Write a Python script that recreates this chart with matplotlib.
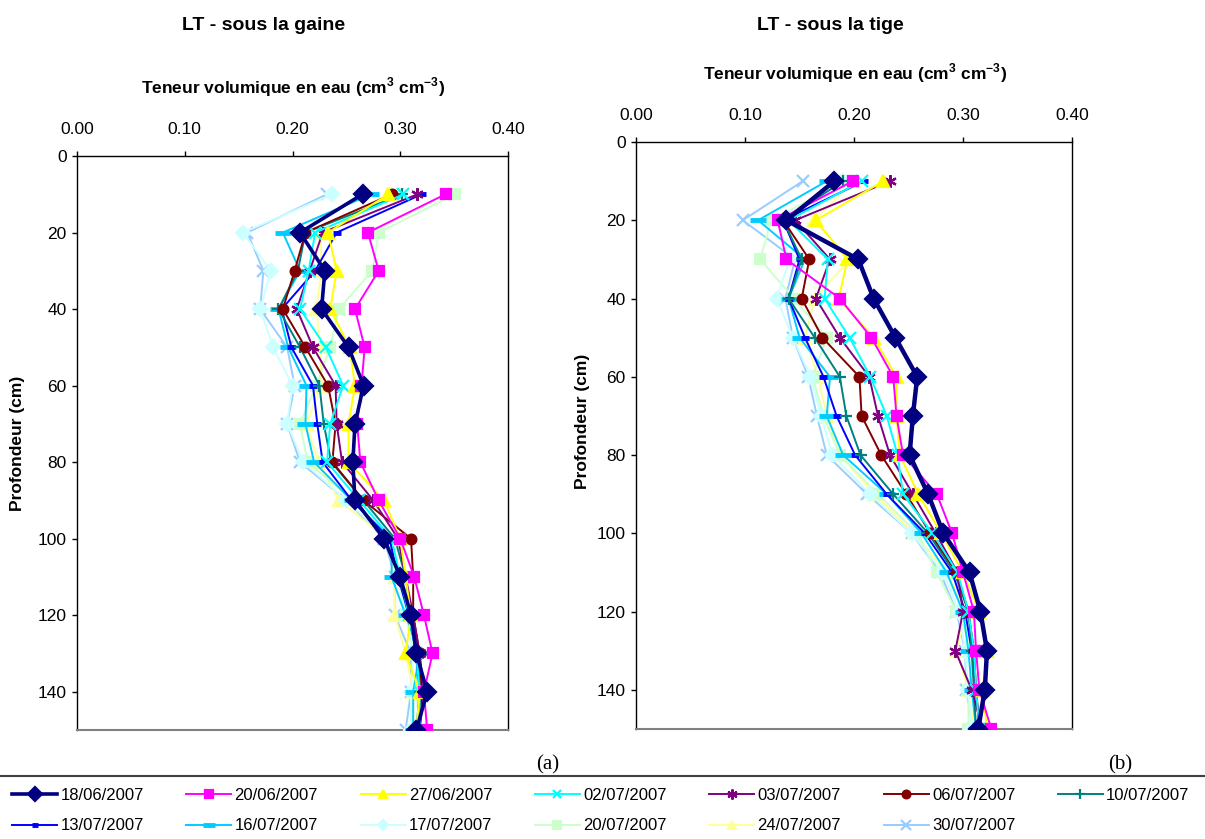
import numpy as np
import matplotlib
matplotlib.use('Agg')
import matplotlib.pyplot as plt
from matplotlib.lines import Line2D

plt.rcParams['font.family'] = ['Liberation Sans', 'DejaVu Sans']
plt.rcParams['mathtext.fontset'] = 'custom'
plt.rcParams['mathtext.rm'] = 'Liberation Sans'
plt.rcParams['mathtext.bf'] = 'Liberation Sans:bold'

W, H = 1205, 839

# ── données ──
depths = [10, 20, 30, 40, 50, 60, 70, 80, 90, 100, 110, 120, 130, 140, 150]
dates = ['18/06/2007', '20/06/2007', '27/06/2007', '02/07/2007', '03/07/2007',
         '06/07/2007', '10/07/2007', '13/07/2007', '16/07/2007', '17/07/2007',
         '20/07/2007', '24/07/2007', '30/07/2007']

# (a) LT - sous la gaine
gaine_1806 = [0.265, 0.207, 0.230, 0.227, 0.252, 0.266, 0.258, 0.256, 0.258, 0.285, 0.300, 0.310, 0.315, 0.325, 0.315]
gaine_2006 = [0.342, 0.270, 0.280, 0.258, 0.267, 0.264, 0.260, 0.263, 0.280, 0.300, 0.313, 0.322, 0.330, 0.322, 0.325]
gaine_2706 = [0.289, 0.233, 0.241, 0.235, 0.253, 0.258, 0.252, 0.252, 0.285, 0.300, 0.305, 0.310, 0.305, 0.318, 0.315]
gaine_0207 = [0.303, 0.221, 0.215, 0.207, 0.231, 0.247, 0.235, 0.232, 0.262, 0.292, 0.300, 0.308, 0.315, 0.318, 0.318]
gaine_0307 = [0.316, 0.228, 0.216, 0.204, 0.219, 0.240, 0.241, 0.246, 0.275, 0.298, 0.305, 0.312, 0.318, 0.322, 0.318]
gaine_0607 = [0.292, 0.212, 0.202, 0.191, 0.212, 0.233, 0.240, 0.237, 0.266, 0.310, 0.312, 0.312, 0.318, 0.320, 0.318]
gaine_1007 = [0.302, 0.212, 0.205, 0.187, 0.207, 0.225, 0.229, 0.236, 0.266, 0.295, 0.305, 0.310, 0.318, 0.318, 0.315]
gaine_1307 = [0.320, 0.241, 0.221, 0.190, 0.199, 0.219, 0.223, 0.228, 0.255, 0.290, 0.298, 0.308, 0.315, 0.318, 0.318]
gaine_1607 = [0.273, 0.191, 0.207, 0.187, 0.196, 0.213, 0.212, 0.220, 0.255, 0.292, 0.292, 0.305, 0.318, 0.312, 0.312]
gaine_1707 = [0.237, 0.154, 0.180, 0.170, 0.182, 0.200, 0.195, 0.210, 0.250, 0.288, 0.300, 0.305, 0.312, 0.310, 0.310]
gaine_2007 = [0.351, 0.280, 0.274, 0.243, 0.235, 0.222, 0.207, 0.214, 0.256, 0.290, 0.298, 0.305, 0.315, 0.315, 0.318]
gaine_2407 = [0.290, 0.226, 0.227, 0.222, 0.226, 0.226, 0.213, 0.224, 0.243, 0.288, 0.295, 0.295, 0.305, 0.312, 0.312]
gaine_3007 = [0.232, 0.158, 0.173, 0.170, 0.195, 0.202, 0.195, 0.207, 0.250, 0.285, 0.295, 0.295, 0.310, 0.310, 0.305]

# (b) LT - sous la tige
tige_1806 = [0.182, 0.138, 0.204, 0.218, 0.238, 0.258, 0.254, 0.251, 0.268, 0.282, 0.306, 0.316, 0.322, 0.320, 0.314]
tige_2006 = [0.199, 0.130, 0.138, 0.187, 0.216, 0.236, 0.239, 0.245, 0.276, 0.290, 0.300, 0.310, 0.312, 0.315, 0.326]
tige_2706 = [0.227, 0.165, 0.194, 0.186, 0.218, 0.239, 0.239, 0.242, 0.259, 0.280, 0.300, 0.315, 0.322, 0.318, 0.322]
tige_0207 = [0.207, 0.140, 0.176, 0.173, 0.196, 0.215, 0.230, 0.240, 0.245, 0.272, 0.295, 0.305, 0.310, 0.312, 0.315]
tige_0307 = [0.233, 0.146, 0.178, 0.165, 0.187, 0.214, 0.222, 0.233, 0.254, 0.275, 0.295, 0.300, 0.293, 0.308, 0.318]
tige_0607 = [0.183, 0.135, 0.159, 0.152, 0.171, 0.205, 0.207, 0.225, 0.248, 0.270, 0.294, 0.305, 0.310, 0.312, 0.315]
tige_1007 = [0.190, 0.135, 0.152, 0.140, 0.164, 0.187, 0.193, 0.206, 0.236, 0.268, 0.292, 0.305, 0.308, 0.310, 0.312]
tige_1307 = [0.209, 0.135, 0.150, 0.140, 0.155, 0.172, 0.184, 0.201, 0.230, 0.265, 0.290, 0.302, 0.308, 0.312, 0.315]
tige_1607 = [0.175, 0.112, 0.155, 0.140, 0.150, 0.178, 0.175, 0.190, 0.230, 0.262, 0.285, 0.300, 0.305, 0.308, 0.312]
tige_1707 = [0.190, 0.130, 0.141, 0.129, 0.144, 0.160, 0.170, 0.180, 0.215, 0.253, 0.282, 0.296, 0.302, 0.305, 0.308]
tige_2007 = [0.192, 0.124, 0.114, 0.145, 0.175, 0.162, 0.172, 0.187, 0.222, 0.258, 0.276, 0.294, 0.310, 0.305, 0.305]
tige_2407 = [0.200, 0.163, 0.196, 0.164, 0.155, 0.167, 0.175, 0.187, 0.219, 0.255, 0.285, 0.303, 0.294, 0.305, 0.310]
tige_3007 = [0.153, 0.098, 0.146, 0.137, 0.144, 0.158, 0.166, 0.175, 0.212, 0.253, 0.279, 0.294, 0.302, 0.303, 0.309]

gaine = [gaine_1806, gaine_2006, gaine_2706, gaine_0207, gaine_0307, gaine_0607, gaine_1007,
         gaine_1307, gaine_1607, gaine_1707, gaine_2007, gaine_2407, gaine_3007]
tige = [tige_1806, tige_2006, tige_2706, tige_0207, tige_0307, tige_0607, tige_1007,
        tige_1307, tige_1607, tige_1707, tige_2007, tige_2407, tige_3007]

# styles façon Excel
colors = ['#000080', '#FF00FF', '#FFFF00', '#00FFFF', '#800080', '#800000', '#008080',
          '#0000FF', '#00CCFF', '#CCFFFF', '#CCFFCC', '#FFFF99', '#99CCFF']
markers = ['D', 's', '^', 'x', (6, 2, 0), 'o', '+', '_', '_', 'D', 's', '^', 'x']
msizes = [9, 7, 8, 8, 9, 7, 9, 6, 11, 7, 7, 8, 9]


def fx(px):
    return px / W


def fy(py):
    return 1 - py / H


fig = plt.figure(figsize=(W / 100, H / 100), dpi=100)
ax_a = fig.add_axes([fx(77), fy(730), fx(508) - fx(77), fy(156) - fy(730)])
ax_b = fig.add_axes([fx(636), fy(729), fx(1072) - fx(636), fy(142) - fy(729)])

handles = []
for ax, data in [(ax_a, gaine), (ax_b, tige)]:
    for i, vals in enumerate(data):
        lw = 1.4
        if i == 0:
            lw = 2.6 if ax is ax_a else 3.2
        mew = 1.6
        if markers[i] == '_':
            mew = 3.5
        h, = ax.plot(vals, depths, color=colors[i], lw=lw, marker=markers[i],
                     ms=msizes[i], mew=mew, mfc=colors[i], mec=colors[i],
                     label=dates[i], zorder=20 - i if i else 25)
        if ax is ax_a:
            handles.append(h)
    ax.set_xlim(0, 0.40)
    ax.set_ylim(150, 0)
    ax.set_xticks([0, 0.1, 0.2, 0.3, 0.4])
    ax.set_xticklabels(['0.00', '0.10', '0.20', '0.30', '0.40'])
    ax.set_yticks([0, 20, 40, 60, 80, 100, 120, 140])
    ax.xaxis.tick_top()
    ax.tick_params(axis='both', direction='out', length=3.5, width=1, labelsize=12.5)
    ax.tick_params(axis='x', pad=10)
    ax.tick_params(axis='y', pad=4)
    for s in ['left', 'top', 'right']:
        ax.spines[s].set_linewidth(1.0)
        ax.spines[s].set_color('black')
    ax.spines['bottom'].set_color('#808080')
    ax.spines['bottom'].set_linewidth(1.5)

# titres et axes
fig.text(fx(264), fy(26), 'LT - sous la gaine', ha='center', va='center',
         fontsize=14, fontweight='bold')
fig.text(fx(830), fy(25), 'LT - sous la tige', ha='center', va='center',
         fontsize=14, fontweight='bold')
xlab = r'Teneur volumique en eau (cm$^{\mathbf{3}}$ cm$^{\mathbf{-3}}$)'
fig.text(fx(293), fy(87), xlab, ha='center', va='center', fontsize=12.5, fontweight='bold')
fig.text(fx(855), fy(73), xlab, ha='center', va='center', fontsize=12.5, fontweight='bold')
fig.text(fx(18), fy(443), 'Profondeur (cm)', ha='center', va='center', rotation=90,
         fontsize=12.5, fontweight='bold')
fig.text(fx(583), fy(421), 'Profondeur (cm)', ha='center', va='center', rotation=90,
         fontsize=12.5, fontweight='bold')

fig.text(fx(548), fy(765), '(a)', ha='center', va='center', fontsize=15,
         family=['Liberation Serif', 'DejaVu Serif'])
fig.text(fx(1120), fy(765), '(b)', ha='center', va='center', fontsize=15,
         family=['Liberation Serif', 'DejaVu Serif'])

fig.add_artist(Line2D([0, 1], [fy(776), fy(776)], color='#404040', lw=1.5,
                      transform=fig.transFigure))

# légende : ordre ligne par ligne
order = [0, 7, 1, 8, 2, 9, 3, 10, 4, 11, 5, 12, 6]
leg = fig.legend([handles[k] for k in order], [dates[k] for k in order],
                 ncol=7, loc='upper left', bbox_to_anchor=(fx(12), fy(788)),
                 frameon=False, fontsize=12, handlelength=2.7, handletextpad=0.2,
                 columnspacing=2.55, labelspacing=0.92, borderaxespad=0,
                 borderpad=0, markerscale=0.8)

fig.savefig('out.png', dpi=100)
